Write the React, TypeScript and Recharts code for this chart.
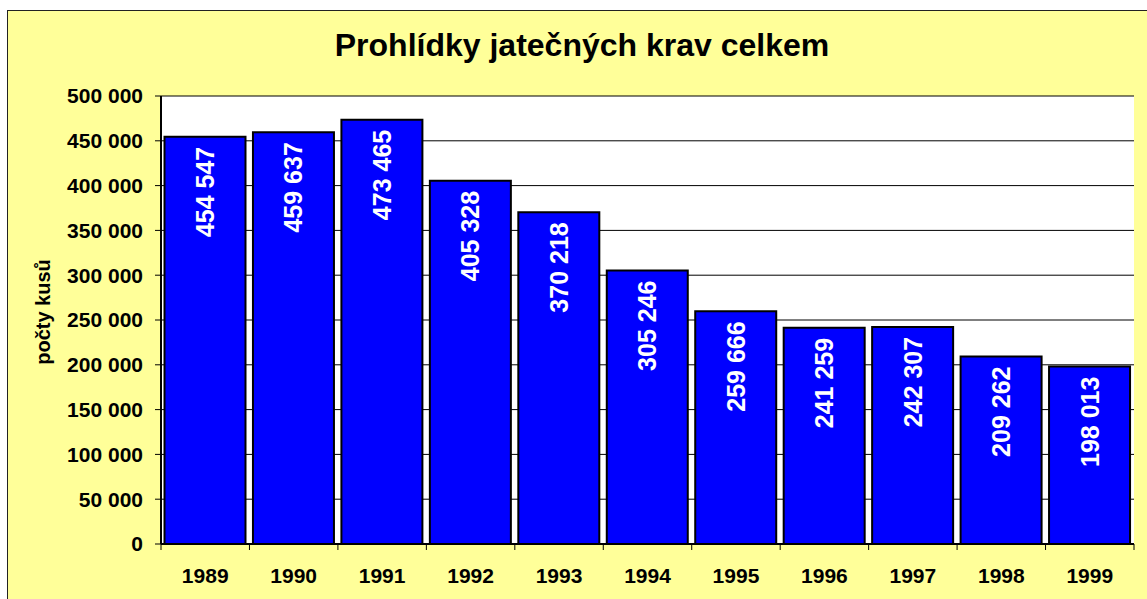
import React from 'react';
import { BarChart, Bar, XAxis, YAxis, CartesianGrid, LabelList } from 'recharts';

const years = ['1989', '1990', '1991', '1992', '1993', '1994', '1995', '1996', '1997', '1998', '1999'];
const counts = [454547, 459637, 473465, 405328, 370218, 305246, 259666, 241259, 242307, 209262, 198013];
const yTicks = [0, 50000, 100000, 150000, 200000, 250000, 300000, 350000, 400000, 450000, 500000];
const title = 'Prohlídky jatečných krav celkem';
const yLabel = 'počty kusů';

const data = years.map((y, i) => ({ year: y, value: counts[i] }));

const W = 1147;
const H = 599;
const X_AXIS_H = 55;
const M = { top: 96, right: 13, bottom: 0, left: 0 };
const Y_AXIS_W = 161;
const PLOT_W = W - M.left - M.right - Y_AXIS_W;
const BAND = PLOT_W / years.length;
const PLOT_BOTTOM = H - X_AXIS_H;
const FONT = '"Liberation Sans", Arial, sans-serif';

const fmt = (v: number) => String(v).replace(/\B(?=(\d{3})+(?!\d))/g, ' ');

const XTick = (props: any) => {
  const { x, payload, index } = props;
  const left = x - BAND / 2;
  return (
    <g>
      <line x1={left} y1={PLOT_BOTTOM} x2={left} y2={PLOT_BOTTOM + 6} stroke="#000" strokeWidth={1} />
      {index === years.length - 1 && (
        <line x1={x + BAND / 2} y1={PLOT_BOTTOM} x2={x + BAND / 2} y2={PLOT_BOTTOM + 6} stroke="#000" strokeWidth={1} />
      )}
      <text x={x} y={PLOT_BOTTOM + 39} textAnchor="middle" fontFamily={FONT} fontWeight="bold" fontSize={21} fill="#000">
        {payload.value}
      </text>
    </g>
  );
};

const BarLabel = (props: any) => {
  const { x, y, width, value } = props;
  const cx = x + width / 2;
  const ty = y + 10;
  return (
    <text
      x={cx}
      y={ty}
      transform={`rotate(-90, ${cx}, ${ty})`}
      textAnchor="end"
      dominantBaseline="central"
      fill="#fff"
      fontFamily={FONT}
      fontWeight="bold"
      fontSize={25}
    >
      {fmt(value)}
    </text>
  );
};

const YLabel = () => (
  <text
    x={43}
    y={312}
    transform="rotate(-90, 43, 312)"
    textAnchor="middle"
    dominantBaseline="central"
    fontFamily={FONT}
    fontWeight="bold"
    fontSize={20}
    fill="#000"
  >
    {yLabel}
  </text>
);

export default function App() {
  return (
    <div style={{ position: 'absolute', left: 0, top: 0, width: W, height: H, background: '#fff', overflow: 'hidden' }}>
      <div
        style={{
          position: 'absolute',
          left: 7,
          top: 10,
          width: W + 20,
          height: H + 20,
          background: '#FFFF99',
          border: '1px solid #222',
        }}
      />
      <div style={{ position: 'absolute', left: 0, top: 0 }}>
        <BarChart width={W} height={H} data={data} margin={M} barCategoryGap={3.5}>
          <CartesianGrid horizontal vertical={false} fill="#fff" stroke="#000" strokeWidth={1} yAxisId="left" />
          <XAxis
            xAxisId="bottom"
            dataKey="year"
            axisLine={{ stroke: '#000', strokeWidth: 2 }}
            tickLine={false}
            tick={<XTick />}
            height={X_AXIS_H}
            interval={0}
          />
          <XAxis xAxisId="top" dataKey="year" orientation="top" height={0} tick={false} tickLine={false} axisLine={{ stroke: '#000', strokeWidth: 2 }} />
          <YAxis
            yAxisId="left"
            width={Y_AXIS_W}
            domain={[0, 500000]}
            ticks={yTicks}
            interval={0}
            tickFormatter={fmt}
            tickSize={6}
            tickMargin={12}
            tickLine={{ stroke: '#000' }}
            axisLine={{ stroke: '#000', strokeWidth: 2 }}
            tick={{ fill: '#000', fontFamily: FONT, fontWeight: 'bold', fontSize: 21 }}
            label={<YLabel />}
          />
          <YAxis yAxisId="right" orientation="right" width={0} domain={[0, 500000]} tick={false} tickLine={false} axisLine={{ stroke: '#000', strokeWidth: 2 }} />
          <Bar
            dataKey="value"
            xAxisId="bottom"
            yAxisId="left"
            fill="#0000FF"
            stroke="#000"
            strokeWidth={2}
            isAnimationActive={false}
          >
            <LabelList dataKey="value" content={<BarLabel />} />
          </Bar>
        </BarChart>
      </div>
      <svg style={{ position: 'absolute', left: 0, top: 0, pointerEvents: 'none' }} width={W} height={H}>
        <text x={582} y={56} textAnchor="middle" fontFamily={FONT} fontWeight="bold" fontSize={32} fill="#000">
          {title}
        </text>
      </svg>
    </div>
  );
}
